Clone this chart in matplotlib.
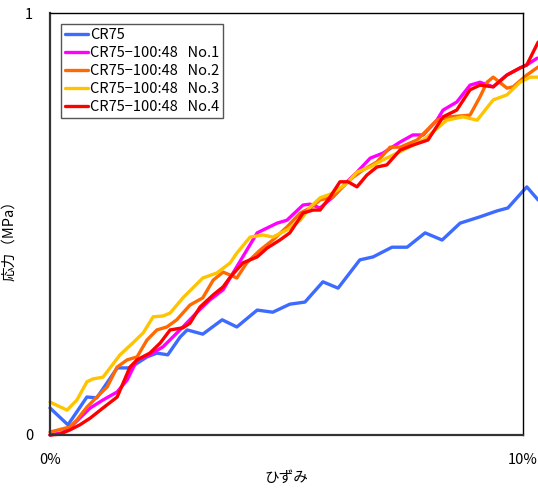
import matplotlib
matplotlib.use('Agg')
import matplotlib.pyplot as plt

plt.rcParams['font.family'] = ['Noto Sans CJK JP', 'DejaVu Sans']

# ひずみ (%) と 応力 (MPa)
strain_cr75 = [0.00, 0.38, 0.78, 0.99, 1.42, 1.69, 2.05, 2.26, 2.49, 2.75, 2.90, 3.23,
               3.64, 3.95, 4.38, 4.71, 5.07, 5.39, 5.77, 6.09, 6.55, 6.83, 7.23, 7.55,
               7.93, 8.29, 8.67, 9.09, 9.45, 9.68, 10.08, 10.32]
stress_cr75 = [0.064, 0.024, 0.090, 0.088, 0.159, 0.159, 0.185, 0.194, 0.190, 0.232, 0.249, 0.239,
               0.273, 0.256, 0.296, 0.291, 0.310, 0.315, 0.363, 0.348, 0.415, 0.422, 0.445, 0.445,
               0.479, 0.462, 0.502, 0.517, 0.531, 0.538, 0.588, 0.557]

strain_no1 = [0.00, 0.25, 0.42, 0.63, 0.85, 1.12, 1.42, 1.63, 1.84, 2.11, 2.39, 2.81, 3.11,
              3.38, 3.66, 3.87, 4.38, 4.80, 5.01, 5.35, 5.50, 5.71, 5.98, 6.28, 6.49, 6.77,
              7.04, 7.40, 7.67, 7.89, 8.18, 8.31, 8.60, 8.88, 9.09, 9.37, 9.66, 9.94, 10.08, 10.30]
stress_no1 = [0.000, 0.005, 0.017, 0.040, 0.064, 0.083, 0.102, 0.130, 0.178, 0.190, 0.209, 0.256, 0.291,
              0.320, 0.344, 0.384, 0.479, 0.502, 0.509, 0.545, 0.547, 0.538, 0.564, 0.600, 0.623, 0.656,
              0.668, 0.694, 0.711, 0.711, 0.746, 0.770, 0.789, 0.829, 0.836, 0.825, 0.853, 0.870, 0.877, 0.893]

strain_no2 = [0.00, 0.42, 0.57, 0.78, 0.99, 1.21, 1.42, 1.63, 1.84, 2.05, 2.26, 2.47, 2.68,
              2.96, 3.23, 3.45, 3.66, 3.81, 3.95, 4.16, 4.44, 4.71, 5.01, 5.29, 5.50, 5.71,
              5.98, 6.19, 6.41, 6.62, 6.91, 7.19, 7.40, 7.76, 8.18, 8.46, 8.88, 9.09, 9.24,
              9.37, 9.66, 9.79, 10.08, 10.32]
stress_no2 = [0.007, 0.019, 0.036, 0.066, 0.090, 0.114, 0.161, 0.178, 0.185, 0.225, 0.249, 0.256, 0.273,
              0.308, 0.325, 0.367, 0.386, 0.379, 0.372, 0.408, 0.438, 0.462, 0.493, 0.526, 0.538, 0.557,
              0.564, 0.588, 0.611, 0.628, 0.647, 0.682, 0.682, 0.699, 0.746, 0.754, 0.758, 0.801, 0.836,
              0.848, 0.822, 0.825, 0.853, 0.872]

strain_no3 = [0.00, 0.36, 0.57, 0.78, 0.91, 1.12, 1.48, 1.75, 1.97, 2.18, 2.39, 2.54, 2.81,
              3.23, 3.53, 3.81, 3.95, 4.23, 4.50, 4.71, 5.01, 5.29, 5.50, 5.71, 5.98, 6.28,
              6.49, 6.77, 7.04, 7.34, 7.89, 8.39, 8.73, 9.03, 9.37, 9.66, 9.94, 10.15, 10.32]
stress_no3 = [0.078, 0.059, 0.083, 0.126, 0.133, 0.137, 0.190, 0.218, 0.242, 0.280, 0.282, 0.289, 0.325,
              0.372, 0.384, 0.408, 0.431, 0.469, 0.474, 0.469, 0.486, 0.509, 0.540, 0.562, 0.573, 0.597,
              0.623, 0.635, 0.652, 0.668, 0.699, 0.746, 0.754, 0.746, 0.794, 0.806, 0.836, 0.848, 0.848]

strain_no4 = [0.00, 0.21, 0.42, 0.63, 0.85, 1.12, 1.42, 1.69, 1.84, 2.11, 2.33, 2.54, 2.81,
              2.96, 3.17, 3.45, 3.66, 3.81, 4.08, 4.38, 4.59, 4.86, 5.07, 5.35, 5.56, 5.71,
              5.92, 6.13, 6.30, 6.49, 6.70, 6.91, 7.12, 7.40, 7.67, 7.99, 8.31, 8.60, 8.88,
              9.09, 9.37, 9.66, 9.94, 10.08, 10.32]
stress_no4 = [0.000, 0.002, 0.012, 0.024, 0.040, 0.064, 0.090, 0.161, 0.178, 0.194, 0.218, 0.249, 0.254,
              0.265, 0.303, 0.332, 0.351, 0.374, 0.408, 0.422, 0.443, 0.462, 0.479, 0.526, 0.533, 0.533,
              0.564, 0.600, 0.600, 0.588, 0.616, 0.635, 0.640, 0.675, 0.687, 0.699, 0.754, 0.770, 0.818,
              0.829, 0.825, 0.853, 0.870, 0.877, 0.931]

labels = ['CR75',
          'CR75\u2212100:48   No.1',
          'CR75\u2212100:48   No.2',
          'CR75\u2212100:48   No.3',
          'CR75\u2212100:48   No.4']
colors = ['#3D6BFF', '#FF00FF', '#FF6A00', '#FFC400', '#FF0000']

series = [(strain_cr75, stress_cr75), (strain_no1, stress_no1), (strain_no2, stress_no2),
          (strain_no3, stress_no3), (strain_no4, stress_no4)]

fig = plt.figure(figsize=(5.38, 4.92), dpi=100)
ax = fig.add_axes([50 / 538, 57 / 492, 473 / 538, 422 / 492])

for (x, y), lab, c in zip(series, labels, colors):
    ax.plot(x, y, color=c, lw=2.4, label=lab, clip_on=False,
            solid_capstyle='round', solid_joinstyle='round')

ax.set_xlim(0, 10)
ax.set_ylim(0, 1)
ax.set_xticks([0, 10])
ax.set_xticklabels(['0%', '10%'])
ax.set_yticks([0, 1])
ax.set_yticklabels(['0', '1'])
ax.tick_params(length=0, labelsize=10.5)
ax.tick_params(axis='x', pad=13)
ax.tick_params(axis='y', pad=12)

for side in ['left', 'bottom']:
    ax.spines[side].set_linewidth(1.6)
    ax.spines[side].set_color('#333333')
for side in ['top', 'right']:
    ax.spines[side].set_linewidth(1.0)
    ax.spines[side].set_color('black')

ax.set_xlabel('ひずみ', fontsize=10.5, labelpad=3)
ax.set_ylabel('応力（MPa）', fontsize=10.5, labelpad=3)
ax.yaxis.set_label_coords(-0.072, 0.47)

leg = ax.legend(loc='upper left', bbox_to_anchor=(61 / 538, 1 - 24 / 492),
                bbox_transform=fig.transFigure, fontsize=10.5, frameon=True, fancybox=False,
                edgecolor='#555555', framealpha=1, borderpad=0.25, labelspacing=0.28,
                handlelength=1.6, handletextpad=0.15, borderaxespad=0)
leg.get_frame().set_linewidth(1.0)

fig.savefig('out.png', dpi=100)
